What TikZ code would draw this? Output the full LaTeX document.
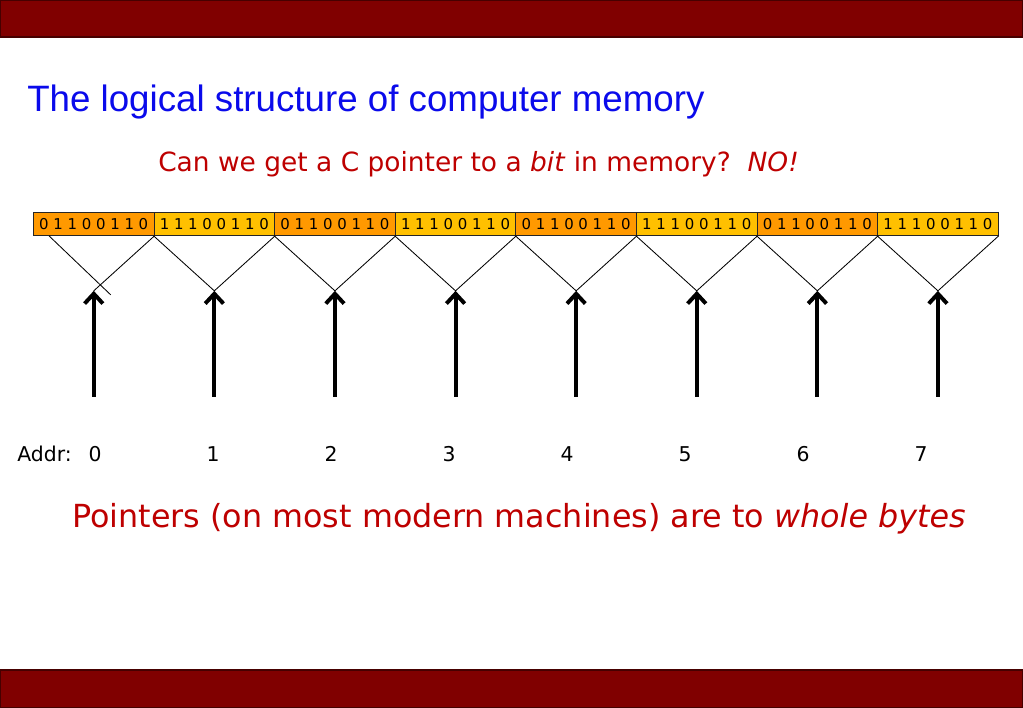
\documentclass[tikz,border=0pt]{standalone}
\usepackage{fontspec}
\usepackage{tikz}
\usetikzlibrary{positioning, arrows.meta, calc}
\newfontfamily\arialfont{Liberation Sans}
\newfontfamily\verdfont{DejaVu Sans}
\definecolor{barred}{RGB}{128,0,0}
\definecolor{bardark}{RGB}{70,0,0}
\definecolor{ttlblue}{RGB}{10,10,235}
\definecolor{txtred}{RGB}{190,0,0}
\definecolor{bytedark}{RGB}{255,153,0}
\definecolor{bytelight}{RGB}{255,192,0}

\begin{document}
\begin{tikzpicture}[
      x=0.025cm, y=-0.025cm,
      bar/.style={fill=barred, draw=bardark, line width=0.8pt},
      ttl/.style={anchor=base west, inner sep=0pt, text=ttlblue, font=\arialfont\fontsize{26.1}{30}\selectfont},
      redtxt/.style={anchor=base west, inner sep=0pt, text=txtred, font=\verdfont\fontsize{#1}{26}\selectfont},
      bytebox/.style={draw=black!85, line width=0.6pt, minimum width=3.015cm, minimum height=0.575cm, inner sep=0pt, anchor=north west, font=\verdfont\fontsize{10.6}{12}\selectfont},
      vline/.style={line width=0.6pt},
      ptr/.style={line width=2.8pt, -{Straight Barb[length=7pt, width=13pt]}},
      addr/.style={anchor=base, inner sep=0pt, font=\verdfont\fontsize{14.5}{17}\selectfont},
  ]
    \useasboundingbox (0,0) rectangle (1023,708);
    \fill[white] (0,0) rectangle (1023,708);

    % top and bottom bars
    \draw[bar] (0,0) rectangle (1023,37);
    \draw[bar] (0,670) rectangle (1023,708);

    \node[ttl] (title) at (27,112) {The logical structure of computer memory};
    \node[redtxt=18.8] (question) at (158,172) {Can we get a C pointer to a \textit{bit} in memory?\ \ \textit{NO!}};

    % the bytes
    \foreach \i in {0,...,7} {
      \ifodd\i \def\col{bytelight}\def\bits{1 1 1 0 0 1 1 0}\else \def\col{bytedark}\def\bits{0 1 1 0 0 1 1 0}\fi
      \node[bytebox, fill=\col] (byte\i) at ({33+120.6*\i},212) {\bits};
      \coordinate (apex\i) at ($(byte\i.south)+(0,55)$);
      \coordinate (foot\i) at ($(apex\i)+(0,106)$);
    }

    % fan-in lines
    \coordinate (cross0) at ($(apex0)+(17,4)$);
    \draw[vline] ($(byte0.south west)+(16,0)$) -- (cross0);
    \draw[vline] (byte0.south east) -- (apex0);
    \foreach \i in {1,...,7}
      \draw[vline] (byte\i.south west) -- (apex\i) -- (byte\i.south east);

    % pointers
    \foreach \i in {0,...,7}
      \draw[ptr] (foot\i) -- (apex\i);

    \node[addr, anchor=base west] (addrlbl) at (17,461) {Addr:};
    \foreach \i in {0,...,7}
      \node[addr] (addr\i) at ({95+118*\i},461) {\i};

    \node[redtxt=22.6] (answer) at (72,527) {Pointers (on most modern machines) are to \textit{whole bytes}};
  \end{tikzpicture}
\end{document}
